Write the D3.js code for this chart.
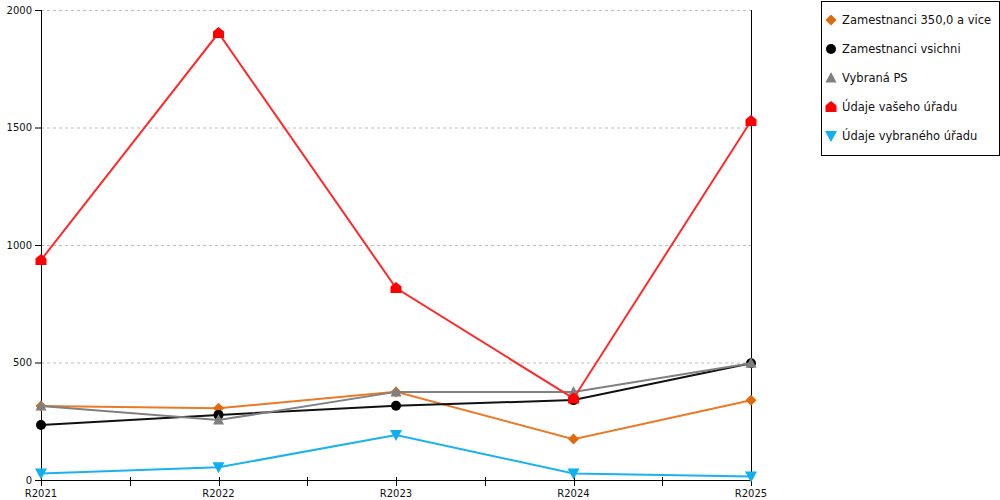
<!DOCTYPE html>
<html>
<head>
<meta charset="utf-8">
<script src="https://cdn.jsdelivr.net/npm/d3@7/dist/d3.min.js"></script>
<style>
  body { margin: 0; background: #fff; }
  svg { display: block; font-family: "DejaVu Sans", Verdana, sans-serif; }
</style>
</head>
<body>
<svg id="chart" width="1000" height="500"></svg>
<script>
// chart data
const categories = ["R2021", "R2022", "R2023", "R2024", "R2025"];
const yTicks = [0, 500, 1000, 1500, 2000];

const zam350 = [315, 305, 375, 174, 339];
const zamAll = [234, 277, 316, 340, 497];
const vybranaPS = [315, 255, 375, 375, 497];
const vasUrad = [936, 1902, 817, 347, 1528];
const vybranyUrad = [28, 54, 191, 28, 15];

const seriesNames = ["Zamestnanci 350,0 a vice", "Zamestnanci vsichni", "Vybraná PS", "Údaje vašeho úřadu", "Údaje vybraného úřadu"];

const series = [
  { name: seriesNames[0], values: zam350, line: "#ea7a26", fill: "#e06a0a", shape: "diamond" },
  { name: seriesNames[1], values: zamAll, line: "#111", fill: "#000", shape: "circle" },
  { name: seriesNames[2], values: vybranaPS, line: "#808080", fill: "#7f7f7f", shape: "triangle" },
  { name: seriesNames[3], values: vasUrad, line: "#ff2a2a", fill: "#ff0000", shape: "house" },
  { name: seriesNames[4], values: vybranyUrad, line: "#1ab2ee", fill: "#10b0f0", shape: "down" }
];

const svg = d3.select("#chart");
const plotLeft = 41, plotRight = 751, plotTop = 10, plotBottom = 480;

const x = d3.scalePoint().domain(categories).range([plotLeft, plotRight]);
const y = d3.scaleLinear().domain([0, 2000]).range([plotBottom, plotTop]);

// marker shapes
function markerPath(shape) {
  switch (shape) {
    case "diamond": return "M0,-5.5L5.5,0L0,5.5L-5.5,0Z";
    case "triangle": return "M0,-6L5.5,4.5L-5.5,4.5Z";
    case "down": return "M0,6L6,-5L-6,-5Z";
    case "house": return "M0,-6L5.5,-1.5L5.5,5L-5.5,5L-5.5,-1.5Z";
  }
  return null;
}

function drawMarker(g, shape, fill, cx, cy) {
  if (shape === "circle") {
    g.append("circle").attr("cx", cx).attr("cy", cy).attr("r", 5).attr("fill", fill);
  } else {
    g.append("path").attr("d", markerPath(shape))
      .attr("transform", `translate(${cx},${cy})`).attr("fill", fill);
  }
}

// gridlines
svg.append("g").selectAll("line")
  .data(yTicks.filter(d => d > 0))
  .join("line")
  .attr("x1", plotLeft).attr("x2", plotRight)
  .attr("y1", d => y(d) + 0.5).attr("y2", d => y(d) + 0.5)
  .attr("stroke", "#bdbdbd").attr("stroke-dasharray", "3,3");

// y axis: ticks + labels from d3, own domain line
const yAxis = svg.append("g").attr("transform", `translate(${plotLeft},0)`)
  .call(d3.axisLeft(y).tickValues(yTicks).tickFormat(d3.format("d"))
    .tickSize(6).tickSizeOuter(0).offset(0.5));
yAxis.select(".domain").remove();
yAxis.selectAll(".tick line").attr("stroke", "#000");
yAxis.selectAll("text").attr("font-size", 10).attr("fill", "#111").attr("x", -9)
  .attr("font-family", "DejaVu Sans");

svg.append("line")
  .attr("x1", plotLeft + 0.5).attr("x2", plotLeft + 0.5)
  .attr("y1", plotTop).attr("y2", plotBottom + 6)
  .attr("stroke", "#000").attr("stroke-width", 1);

// right border line
svg.append("line")
  .attr("x1", plotRight + 0.5).attr("x2", plotRight + 0.5)
  .attr("y1", plotTop).attr("y2", plotBottom + 6)
  .attr("stroke", "#000");

// x axis
svg.append("line")
  .attr("x1", plotLeft).attr("x2", plotRight + 1)
  .attr("y1", plotBottom + 0.5).attr("y2", plotBottom + 0.5)
  .attr("stroke", "#000");

const step = x.step();
const tickXs = [];
categories.forEach((c, i) => {
  tickXs.push(x(c));
  if (i < categories.length - 1) tickXs.push(x(c) + step / 2);
});
svg.append("g").selectAll("line")
  .data(tickXs)
  .join("line")
  .attr("x1", d => Math.round(d) + 0.5).attr("x2", d => Math.round(d) + 0.5)
  .attr("y1", plotBottom - 3).attr("y2", plotBottom + 6)
  .attr("stroke", "#000");

svg.append("g").selectAll("text")
  .data(categories)
  .join("text")
  .attr("x", d => x(d))
  .attr("y", 497)
  .attr("text-anchor", "middle")
  .attr("font-size", 10)
  .attr("fill", "#111")
  .text(d => d);

// series
const line = d3.line().x((d, i) => x(categories[i])).y(d => y(d));
series.forEach(s => {
  const g = svg.append("g");
  g.append("path").datum(s.values)
    .attr("d", line)
    .attr("fill", "none")
    .attr("stroke", s.line)
    .attr("stroke-width", 2);
  s.values.forEach((v, i) => drawMarker(g, s.shape, s.fill, x(categories[i]), y(v)));
});

// legend
const lg = svg.append("g");
lg.append("rect")
  .attr("x", 821.5).attr("y", 1.5)
  .attr("width", 178).attr("height", 154)
  .attr("fill", "#fff").attr("stroke", "#000");
series.forEach((s, i) => {
  const cy = 20 + i * 29;
  drawMarker(lg, s.shape, s.fill, 831, cy);
  lg.append("text")
    .attr("x", 842).attr("y", cy + 4)
    .attr("font-size", 11.5)
    .attr("fill", "#111")
    .text(s.name);
});
</script>
</body>
</html>
